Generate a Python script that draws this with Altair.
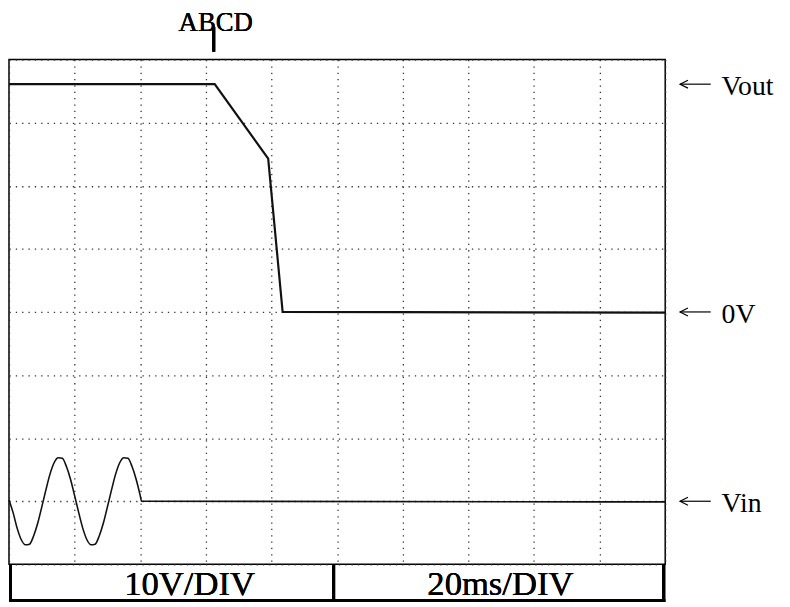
import altair as alt
import pandas as pd

# ---- data ----
# time in ms (20 ms/div, 10 divisions), voltage in V (10 V/div)
grid_t = [0, 20, 40, 60, 80, 100, 120, 140, 160, 180, 200]
grid_v = [-40, -30, -20, -10, 0, 10, 20, 30, 40]

vout_t = [0, 62.7, 79.0, 83.4, 200]
vout_v = [36.1, 36.1, 24.3, 0.0, -0.1]

vin_t = [0, 1.25, 2.5, 3.75, 5, 6.25, 7.5, 8.75, 10, 11.25, 12.5, 13.75, 15,
         16.25, 17.5, 18.75, 20, 21.25, 22.5, 23.75, 25, 26.25, 27.5, 28.75,
         30, 31.25, 32.5, 33.75, 35, 36.25, 37.5, 38.75, 40, 40.4, 200]
vin_v = [0.2, -1.8, -4.3, -6.1, -6.9, -6.8, -5.5, -3.5, -0.9, 1.8, 4.3, 6.1, 6.9,
         6.8, 5.5, 3.5, 0.9, -1.8, -4.3, -6.1, -6.9, -6.8, -5.5, -3.5,
         -0.9, 1.8, 4.3, 6.1, 6.9, 6.8, 5.5, 3.5, 0.9, 0.0, -0.1]
vin_offset = -30  # screen position of the Vin channel's ground

trig_t = 62.4
trig_label = "ABCD"

marker_names = ["Vout", "0V", "Vin"]
marker_levels = [36.1, 0.0, -30.0]

bar_labels = ["10V/DIV", "20ms/DIV"]

FONT = "Liberation Serif"
W, H = 663, 510

vout_df = pd.DataFrame({"t": vout_t, "v": vout_v})
vin_df = pd.DataFrame({"t": vin_t, "v": vin_v})
marker_df = pd.DataFrame({"name": marker_names, "level": marker_levels})

xscale = alt.Scale(domain=[0, 200], nice=False, zero=False)
yscale = alt.Scale(domain=[-40, 40], nice=False, zero=False)

grid_axis_x = alt.Axis(values=grid_t, grid=True, labels=False, ticks=False,
                       domain=False, title=None, gridColor="#333",
                       gridDash=[1.3, 5.1], gridWidth=1.3)
grid_axis_y = alt.Axis(values=grid_v, grid=True, labels=False, ticks=False,
                       domain=False, title=None, gridColor="#333",
                       gridDash=[1.3, 5.1], gridWidth=1.3)

vout_line = alt.Chart(vout_df).transform_calculate(y="datum.v").mark_line(
    color="#111", strokeWidth=2.2
).encode(
    x=alt.X("t:Q", scale=xscale, axis=grid_axis_x, title=None),
    y=alt.Y("y:Q", scale=yscale, axis=grid_axis_y, title=None),
)

vin_line = alt.Chart(vin_df).transform_calculate(
    y=f"datum.v + ({vin_offset})"
).mark_line(color="#111", strokeWidth=1.6, interpolate="monotone").encode(
    x=alt.X("t:Q", scale=xscale, title=None),
    y=alt.Y("y:Q", scale=yscale, title=None),
)

# arrows "←" drawn as a shaft plus an open chevron head
arrow_shaft = alt.Chart(marker_df).mark_rule(color="black", strokeWidth=1.2).encode(
    x=alt.value(678), x2=alt.value(709),
    y=alt.Y("level:Q", scale=yscale, title=None),
)
arrow_head = alt.Chart(marker_df).mark_point(
    shape="M 1 -0.5 L 0 0 L 1 0.5", size=256, filled=False,
    color="black", strokeWidth=1.2, opacity=1
).encode(
    x=alt.value(678),
    y=alt.Y("level:Q", scale=yscale, title=None),
)

names = alt.Chart(marker_df).mark_text(
    align="left", baseline="alphabetic", dy=11, fontSize=28, font=FONT,
    color="black"
).encode(x=alt.value(720), y=alt.Y("level:Q", scale=yscale, title=None),
         text="name:N")

trig_tick = alt.Chart(marker_df).mark_rule(color="black", strokeWidth=3).encode(
    x=alt.X(datum=trig_t, scale=xscale), y=alt.value(-33), y2=alt.value(-8)
)
trig_text = alt.Chart(marker_df).mark_text(
    text=trig_label, fontSize=27, font=FONT, align="center",
    baseline="alphabetic", dx=2, color="black"
).encode(x=alt.X(datum=trig_t, scale=xscale), y=alt.value(-29))

# bottom status bar
bar_bottom = alt.Chart(marker_df).mark_rule(color="black", strokeWidth=3).encode(
    x=alt.value(0), x2=alt.value(W), y=alt.value(546.5))
bar_left = alt.Chart(marker_df).mark_rule(color="black", strokeWidth=3).encode(
    x=alt.value(1.5), y=alt.value(H), y2=alt.value(548))
bar_right = alt.Chart(marker_df).mark_rule(color="black", strokeWidth=3).encode(
    x=alt.value(661.5), y=alt.value(H), y2=alt.value(548))
bar_mid = alt.Chart(marker_df).mark_rule(color="black", strokeWidth=3).encode(
    x=alt.value(328), y=alt.value(H), y2=alt.value(548))
bar_text1 = alt.Chart(marker_df).mark_text(
    text=bar_labels[0], fontSize=35, font=FONT, align="center",
    baseline="alphabetic", color="black"
).encode(x=alt.value(182.5), y=alt.value(541))
bar_text2 = alt.Chart(marker_df).mark_text(
    text=bar_labels[1], fontSize=35, font=FONT, align="center",
    baseline="alphabetic", color="black"
).encode(x=alt.value(496.5), y=alt.value(541))

chart = alt.layer(
    vout_line, vin_line, arrow_shaft, arrow_head, names, trig_tick, trig_text,
    bar_bottom, bar_left, bar_right, bar_mid, bar_text1, bar_text2
).properties(
    width=W, height=H,
    padding={"left": 1, "top": 49, "right": 118, "bottom": 40},
    autosize=alt.AutoSizeParams(type="none"),
    background="white",
).configure_view(stroke="black", strokeWidth=1.5)

chart.save("out.html", embed_options={"renderer": "svg", "actions": False})
